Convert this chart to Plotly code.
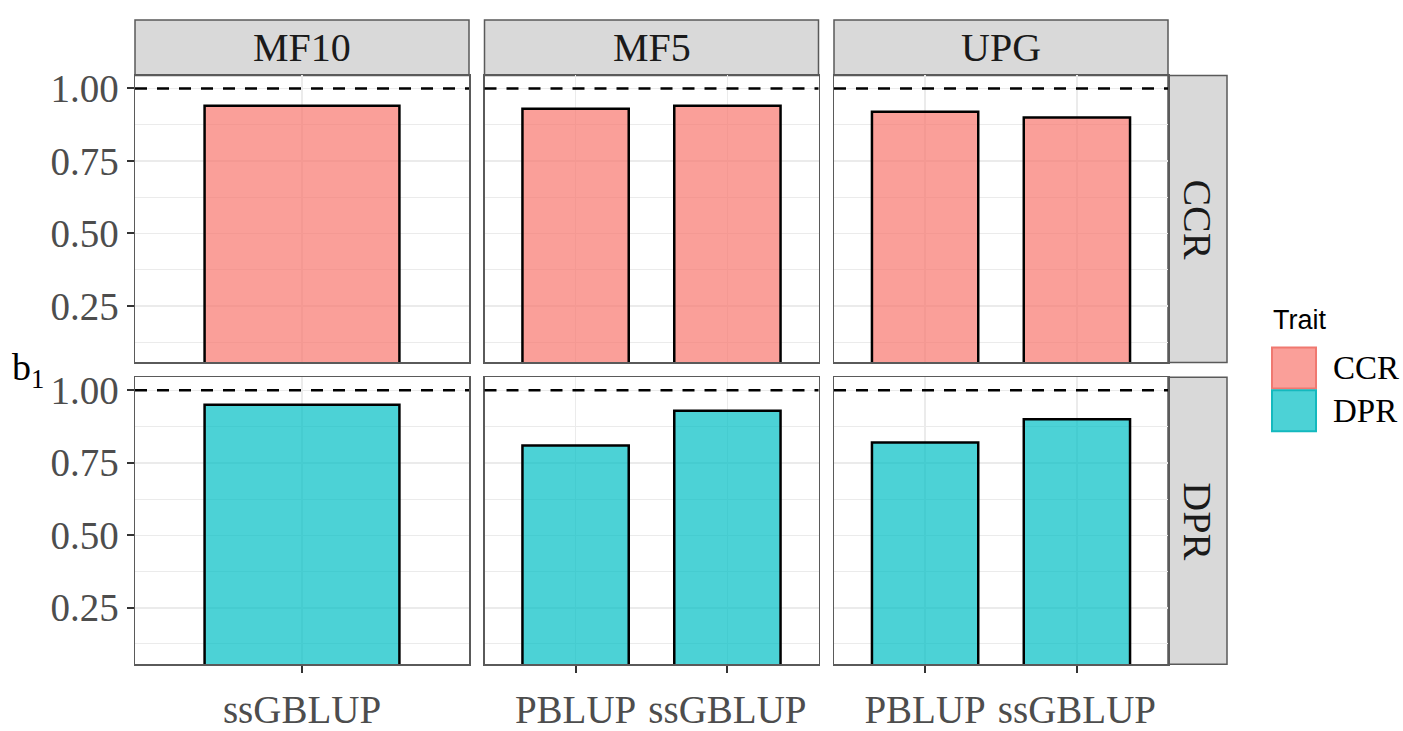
import plotly.graph_objects as go

# ---- data ----
scheme_labels = ["MF10", "MF5", "UPG"]
trait_labels = ["CCR", "DPR"]
method_labels = [["ssGBLUP"], ["PBLUP", "ssGBLUP"], ["PBLUP", "ssGBLUP"]]
ccr_b1 = [[0.94], [0.93, 0.94], [0.92, 0.90]]
dpr_b1 = [[0.95], [0.81, 0.93], [0.82, 0.90]]
y_ticks = [0.25, 0.50, 0.75, 1.00]
y_ticktext = ["0.25", "0.50", "0.75", "1.00"]
reference_line = 1.0

# ---- style ----
W, H = 1403, 731
fill_colors = {"CCR": "rgba(248,118,109,0.7)", "DPR": "rgba(0,191,196,0.7)"}
border_colors = {"CCR": "rgba(240,120,112,1)", "DPR": "rgba(20,185,190,1)"}
SERIF = "Liberation Serif, Times New Roman, serif"
SANS = "Liberation Sans, Arial, sans-serif"
frame_col = "#5a5a5a"
grid_col = "#EBEBEB"
TICK_SIZE = 39
STRIP_SIZE = 40

col_px = [(135, 469), (484.5, 818.5), (834, 1168)]
row_px = [(70.7, 371.7), (387.3, 688.3)]
strip_top = (12.7, 70.7)
strip_right = (1168, 1227)

def fx(px):
    return px / W

def fy(py):
    return 1 - py / H

fig = go.Figure()
data_rows = [ccr_b1, dpr_b1]
shapes = []
annotations = []
layout_axes = {}

idx = 0
for r, trait in enumerate(trait_labels):
    for c, scheme in enumerate(scheme_labels):
        idx += 1
        xa = "x" if idx == 1 else f"x{idx}"
        ya = "y" if idx == 1 else f"y{idx}"
        xkey = "xaxis" if idx == 1 else f"xaxis{idx}"
        ykey = "yaxis" if idx == 1 else f"yaxis{idx}"
        cats = method_labels[c]
        vals = data_rows[r][c]
        fig.add_trace(go.Bar(
            x=cats, y=vals, xaxis=xa, yaxis=ya, width=0.7,
            marker=dict(color=fill_colors[trait], line=dict(color="black", width=2.5)),
            showlegend=False, name=trait,
        ))
        bottom = (r == len(trait_labels) - 1)
        left = (c == 0)
        layout_axes[xkey] = dict(
            domain=[fx(col_px[c][0]), fx(col_px[c][1])],
            anchor=ya, type="category", categoryorder="array", categoryarray=cats,
            range=[-0.6, len(cats) - 0.4],
            showgrid=True, gridcolor=grid_col, gridwidth=1.5,
            showline=True, linecolor=frame_col, linewidth=1.5, mirror=True,
            ticks="outside" if bottom else "", ticklen=7, tickwidth=2, tickcolor="#333333",
            showticklabels=bottom,
            tickfont=dict(family=SERIF, size=TICK_SIZE, color="#4D4D4D"),
            ticklabelstandoff=3,
            zeroline=False, fixedrange=True,
        )
        layout_axes[ykey] = dict(
            domain=[fy(row_px[r][1]), fy(row_px[r][0])],
            anchor=xa, range=[0.055, 1.045],
            tickvals=y_ticks, ticktext=y_ticktext,
            showgrid=True, gridcolor=grid_col, gridwidth=1.5,
            minor=dict(dtick=0.125, tick0=0, showgrid=True, gridcolor=grid_col, gridwidth=1),
            showline=True, linecolor=frame_col, linewidth=1.5, mirror=True,
            ticks="outside" if left else "", ticklen=7, tickwidth=2, tickcolor="#333333",
            showticklabels=left,
            tickfont=dict(family=SERIF, size=TICK_SIZE, color="#4D4D4D"),
            ticklabelstandoff=0,
            zeroline=False, fixedrange=True,
        )
        shapes.append(dict(
            type="line", xref=f"{xa} domain", yref=ya, x0=0, x1=1,
            y0=reference_line, y1=reference_line,
            line=dict(color="black", width=2.5, dash="12px,10px"), layer="above",
        ))

# top strips
for c, scheme in enumerate(scheme_labels):
    shapes.append(dict(type="rect", xref="paper", yref="paper",
                       x0=fx(col_px[c][0]), x1=fx(col_px[c][1]),
                       y0=fy(strip_top[1]), y1=fy(strip_top[0]),
                       fillcolor="#D9D9D9", line=dict(color=frame_col, width=1.5), layer="below"))
    annotations.append(dict(text=scheme, xref="paper", yref="paper",
                            x=fx((col_px[c][0] + col_px[c][1]) / 2),
                            y=fy((strip_top[0] + strip_top[1]) / 2),
                            showarrow=False, xanchor="center", yanchor="middle",
                            font=dict(family=SERIF, size=STRIP_SIZE, color="#1A1A1A")))
# right strips
for r, trait in enumerate(trait_labels):
    shapes.append(dict(type="rect", xref="paper", yref="paper",
                       x0=fx(strip_right[0]), x1=fx(strip_right[1]),
                       y0=fy(row_px[r][1]), y1=fy(row_px[r][0]),
                       fillcolor="#D9D9D9", line=dict(color=frame_col, width=1.5), layer="below"))
    annotations.append(dict(text=trait, xref="paper", yref="paper",
                            x=fx((strip_right[0] + strip_right[1]) / 2),
                            y=fy((row_px[r][0] + row_px[r][1]) / 2),
                            showarrow=False, textangle=90, xanchor="center", yanchor="middle",
                            font=dict(family=SERIF, size=STRIP_SIZE, color="#1A1A1A")))

# y axis title
annotations.append(dict(text="b<sub>1</sub>", xref="paper", yref="paper",
                        x=fx(28), y=fy(380), showarrow=False,
                        xanchor="center", yanchor="middle",
                        font=dict(family=SERIF, size=38, color="black")))

# legend (drawn manually)
leg_x0 = 1272
key_w = 44
key_h = 43
key_y0 = 356
annotations.append(dict(text="Trait", xref="paper", yref="paper",
                        x=fx(leg_x0 - 1), y=fy(327), showarrow=False,
                        xanchor="left", yanchor="middle",
                        font=dict(family=SANS, size=27, color="black")))
for i, trait in enumerate(trait_labels):
    y0 = key_y0 + i * (key_h + 2)
    shapes.append(dict(type="rect", xref="paper", yref="paper",
                       x0=fx(leg_x0), x1=fx(leg_x0 + key_w),
                       y0=fy(y0 + key_h), y1=fy(y0),
                       fillcolor=fill_colors[trait],
                       line=dict(color=border_colors[trait], width=2)))
    annotations.append(dict(text=trait, xref="paper", yref="paper",
                            x=fx(1331), y=fy(y0 + key_h / 2),
                            showarrow=False, xanchor="left", yanchor="middle",
                            font=dict(family=SERIF, size=33, color="black")))

fig.update_layout(
    width=W, height=H, autosize=False,
    margin=dict(l=0, r=0, t=0, b=0),
    paper_bgcolor="white", plot_bgcolor="white",
    showlegend=False, bargap=0,
    shapes=shapes, annotations=annotations,
    **layout_axes,
)

fig.write_html(
    "out.html",
    config={"displayModeBar": False, "staticPlot": True},
    post_script="document.body.style.margin='0';document.body.style.overflow='hidden';",
)
